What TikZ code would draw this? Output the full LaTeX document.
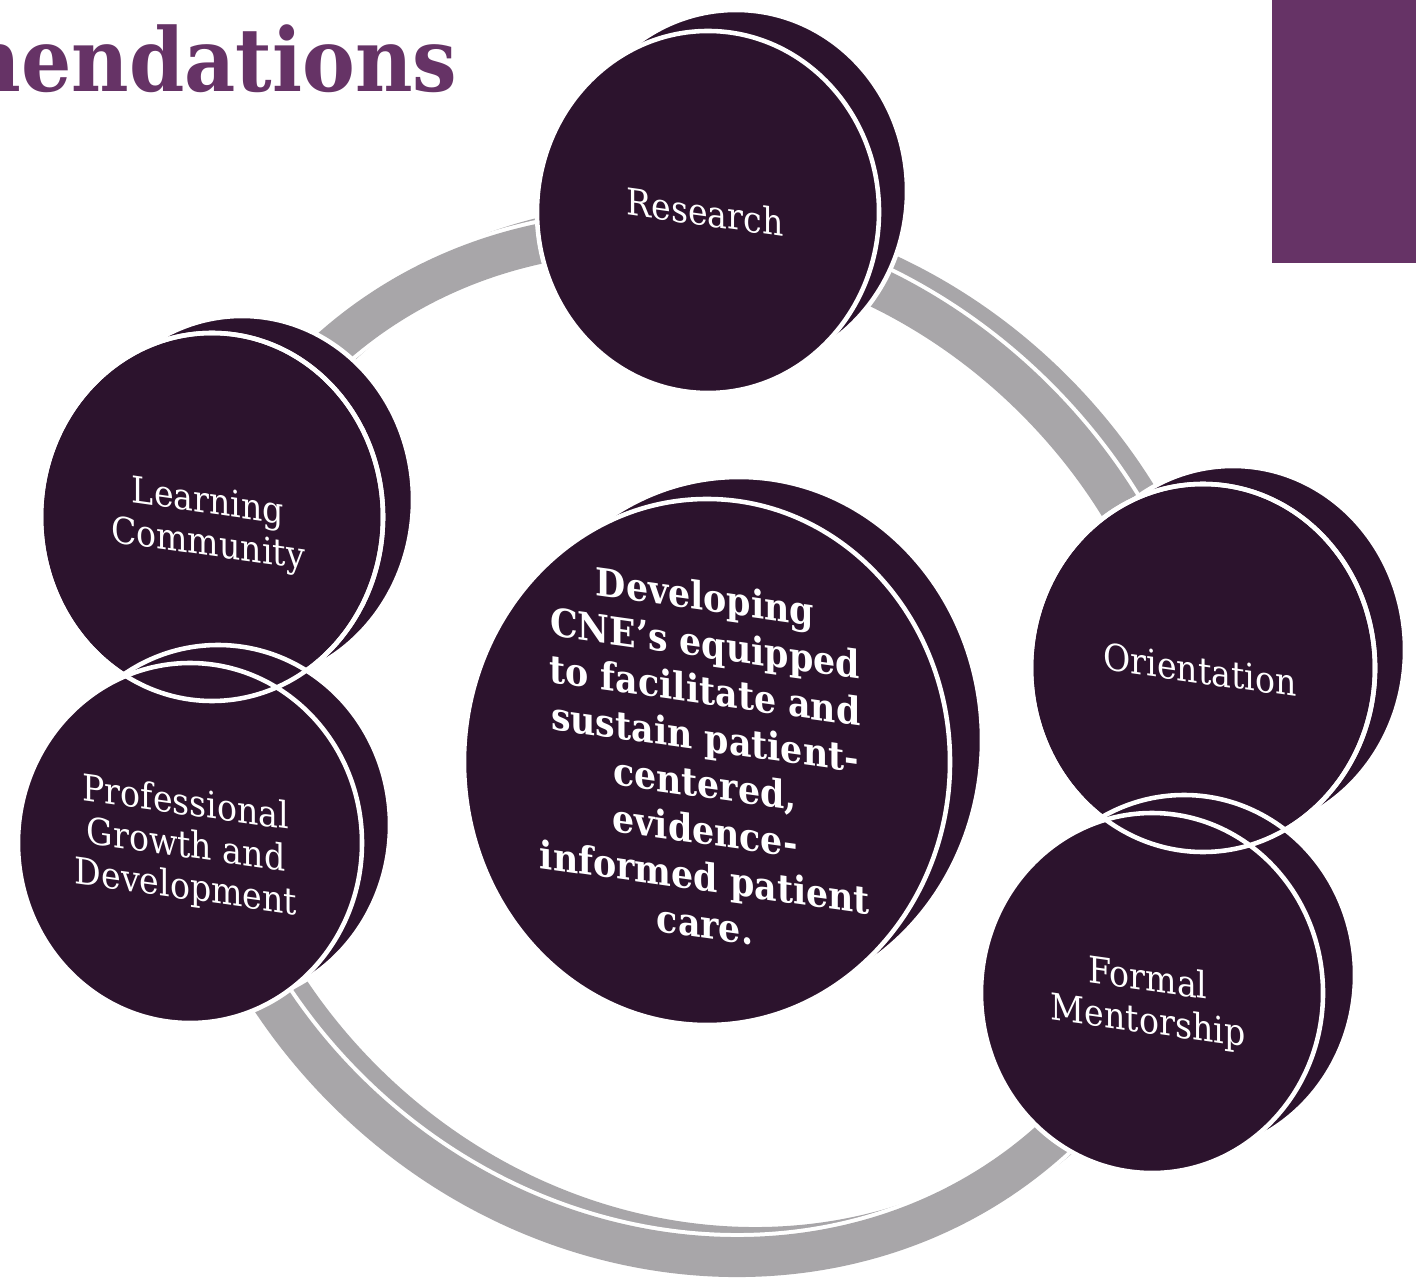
\documentclass[tikz,border=0pt]{standalone}
\usepackage{fontspec}
\setmainfont{DejaVu Serif}
\newfontfamily\cnefont{DejaVu Serif Condensed}
\usepackage{xcolor}
\definecolor{cneplum}{RGB}{102,51,102}
\definecolor{cnedark}{RGB}{44,19,45}
\definecolor{cnegray}{RGB}{168,166,169}
\usepackage{tikz}
\usetikzlibrary{positioning}

\tikzset{
  discfill/.style={fill=cnedark, draw=white, line width=1.3pt},
  discline/.style={draw=white, line width=1.3pt},
  ringedge/.style={draw=white, line width=0.48cm},
  ringband/.style={draw=cnegray, line width=0.40cm},
  disclabel/.style={text=white, align=center, yslant=-0.14, inner sep=0pt,
    font=\cnefont\fontsize{10.5}{12}\selectfont},
  corelabel/.style={text=white, align=center, yslant=-0.14, inner sep=0pt,
    font=\cnefont\bfseries\fontsize{11}{13.3}\selectfont}
}

% disc = back disc (offset) + front disc: x, y, rx, ry, dx, dy
\newcommand{\cnedisc}[6]{%
  \draw[discfill] (#1+#5,#2+#6) ellipse [x radius=#3, y radius=#4];
  \draw[discfill] (#1,#2) ellipse [x radius=#3, y radius=#4];
}
% white rim of a front disc, drawn again on top
\newcommand{\cnerim}[4]{%
  \draw[discline] (#1,#2) ellipse [x radius=#3, y radius=#4];
}

\begin{document}
\begin{tikzpicture}[x=0.01cm, y=-0.01cm]
  \useasboundingbox (0,0) rectangle (1416,1283);
  \clip (0,0) rectangle (1416,1283);

  % --- Title and corner block ---
  \node[anchor=base east, inner sep=0pt, text=cneplum,
    font=\cnefont\bfseries\fontsize{25}{30}\selectfont] (title) at (458,92) {Recommendations};
  \fill[cneplum] (1272,0) rectangle (1416,263);

  % --- Ring: back copy, then front ---
  \begin{scope}[shift={(708,735)}, rotate=-45]
    \draw[ringedge] (0,0) ellipse [x radius=535, y radius=488];
    \draw[ringband] (0,0) ellipse [x radius=535, y radius=488];
  \end{scope}
  \begin{scope}[shift={(690,745)}, rotate=-45]
    \draw[ringedge] (0,0) ellipse [x radius=535, y radius=488];
    \draw[ringband] (0,0) ellipse [x radius=535, y radius=488];
  \end{scope}

  % --- Top ---
  \cnedisc{708}{212}{171}{181}{28}{-21}
  \node[disclabel] (research) at (705,212) {Research};

  % --- Centre ---
  \cnedisc{707}{762}{243}{263}{32}{-22}
  \node[corelabel] (core) at (705,760) {Developing\\CNE’s equipped\\to facilitate and\\sustain patient-\\centered,\\evidence-\\informed patient\\care.};

  % --- Left ---
  \cnedisc{212}{517}{171}{184}{30}{-17}
  \cnedisc{190}{843}{172}{180}{28}{-18}
  \cnerim{212}{517}{171}{184}
  \node[disclabel] (learning) at (208,525) {Learning\\Community};
  \node[disclabel] (growth) at (186,847) {Professional\\Growth and\\Development};

  % --- Right ---
  \cnedisc{1203}{668}{172}{184}{30}{-18}
  \cnedisc{1152}{993}{171}{180}{32}{-18}
  \cnerim{1203}{668}{172}{184}
  \node[disclabel] (orientation) at (1200,670) {Orientation};
  \node[disclabel] (mentorship) at (1148,1002) {Formal\\Mentorship};
\end{tikzpicture}
\end{document}
